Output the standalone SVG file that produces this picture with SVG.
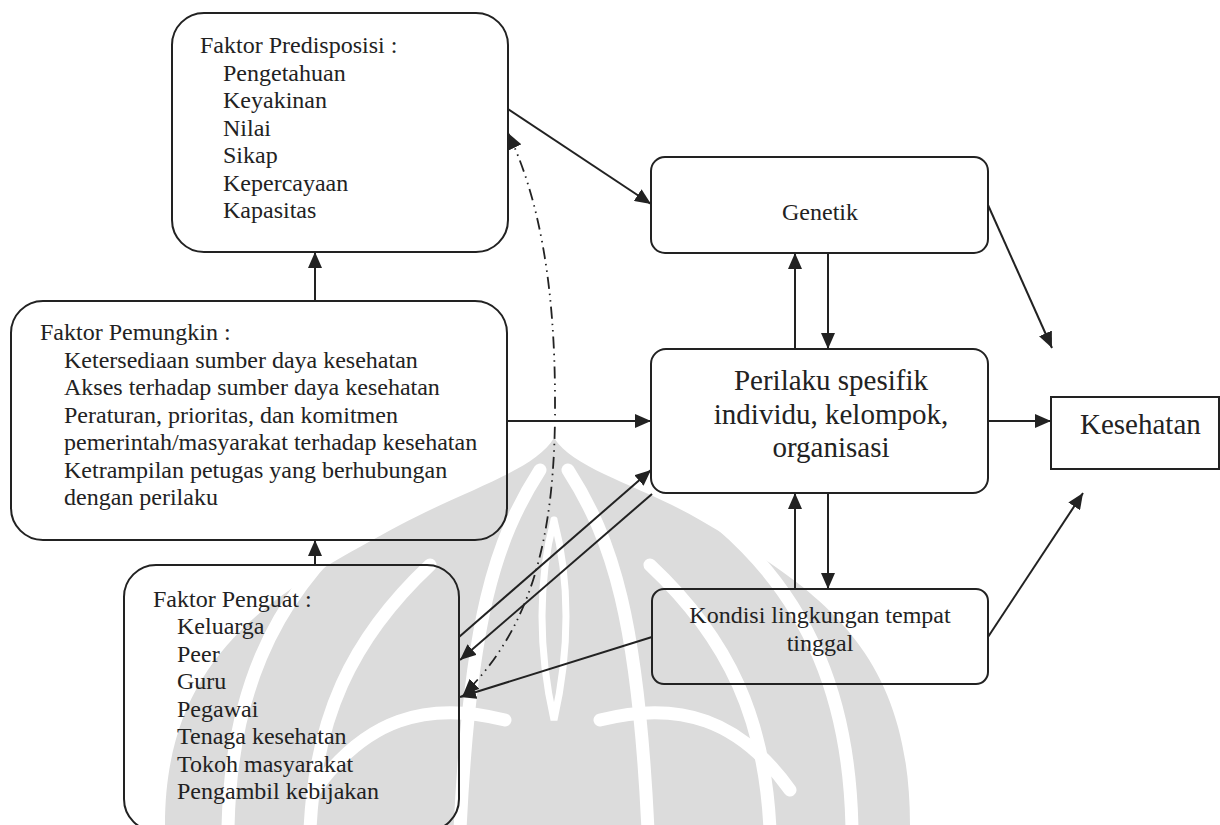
<svg xmlns="http://www.w3.org/2000/svg" width="1220" height="825" viewBox="0 0 1220 825">
  <defs>
    <style>
      .box { fill: none; stroke: #222; stroke-width: 2; }
      .txt { font-family: "Liberation Serif", "Times New Roman", serif; fill: #222; font-size: 24px; }
      .big { font-size: 29px; }
      .link { fill: none; stroke: #222; stroke-width: 2; }
      .dashdot { fill: none; stroke: #222; stroke-width: 1.8; stroke-dasharray: 12 5 1.5 5 1.5 5; }
      .wm { fill: #dcdcdc; }
      .wmline { fill: none; stroke: #fff; stroke-width: 13; stroke-linecap: round; }
    </style>
    <marker id="arrow" viewBox="0 0 16 14" refX="16" refY="7" markerWidth="16" markerHeight="14" markerUnits="userSpaceOnUse" orient="auto-start-reverse">
      <path d="M0,0 L16,7 L0,14 z" fill="#222"/>
    </marker>
  </defs>

  <rect width="1220" height="825" fill="#fff"/>

  <!-- faint emblem in the background -->
  <g id="watermark">
    <path class="wm" d="M554 438 C575 470 640 485 700 520 C820 590 910 650 910 825 L165 825 C165 650 280 590 400 525 C470 488 535 470 554 438 Z"/>
    <path class="wmline" d="M360 523 C270 600 230 700 228 830"/>
    <path class="wmline" d="M430 565 C350 640 315 720 310 830"/>
    <path class="wmline" d="M720 523 C810 600 850 700 852 830"/>
    <path class="wmline" d="M650 565 C730 640 765 720 770 830"/>
    <path class="wmline" d="M540 470 C495 540 470 620 460 830"/>
    <path class="wmline" d="M568 470 C613 540 638 620 648 830"/>
    <path class="wmline" style="stroke-width:7" d="M554 520 C538 580 538 650 554 720 C570 650 570 580 554 520"/>
    <path class="wmline" d="M600 720 C680 700 740 720 790 790"/>
    <path class="wmline" d="M505 720 C425 700 365 720 315 790"/>
  </g>

  <g id="predisposisi">
    <rect class="box" x="172" y="13" width="336" height="239" rx="32" ry="32"/>
    <text class="txt" x="200" y="53">Faktor Predisposisi :</text>
    <text class="txt" x="223" y="80.5">Pengetahuan</text>
    <text class="txt" x="223" y="108">Keyakinan</text>
    <text class="txt" x="223" y="135.5">Nilai</text>
    <text class="txt" x="223" y="163">Sikap</text>
    <text class="txt" x="223" y="190.5">Kepercayaan</text>
    <text class="txt" x="223" y="218">Kapasitas</text>
  </g>

  <g id="pemungkin">
    <rect class="box" x="11" y="301" width="496" height="239" rx="32" ry="32"/>
    <text class="txt" x="40" y="340">Faktor Pemungkin :</text>
    <text class="txt" x="64" y="367.5">Ketersediaan sumber daya kesehatan</text>
    <text class="txt" x="64" y="395">Akses terhadap sumber daya kesehatan</text>
    <text class="txt" x="64" y="422.5">Peraturan, prioritas, dan komitmen</text>
    <text class="txt" x="64" y="450">pemerintah/masyarakat terhadap kesehatan</text>
    <text class="txt" x="64" y="477.5">Ketrampilan petugas yang berhubungan</text>
    <text class="txt" x="64" y="505">dengan perilaku</text>
  </g>

  <g id="penguat">
    <rect class="box" x="124" y="565" width="335" height="266" rx="32" ry="32"/>
    <text class="txt" x="153" y="606.5">Faktor Penguat :</text>
    <text class="txt" x="177" y="634">Keluarga</text>
    <text class="txt" x="177" y="661.5">Peer</text>
    <text class="txt" x="177" y="689">Guru</text>
    <text class="txt" x="177" y="716.5">Pegawai</text>
    <text class="txt" x="177" y="744">Tenaga kesehatan</text>
    <text class="txt" x="177" y="771.5">Tokoh masyarakat</text>
    <text class="txt" x="177" y="799">Pengambil kebijakan</text>
  </g>

  <g id="genetik">
    <rect class="box" x="651" y="157" width="337" height="96" rx="14" ry="14"/>
    <text class="txt" x="820" y="220" text-anchor="middle">Genetik</text>
  </g>

  <g id="perilaku">
    <rect class="box" x="651" y="349" width="337" height="144" rx="15" ry="15"/>
    <text class="txt big" x="831" y="390" text-anchor="middle">Perilaku spesifik</text>
    <text class="txt big" x="831" y="423.5" text-anchor="middle">individu, kelompok,</text>
    <text class="txt big" x="831" y="457" text-anchor="middle">organisasi</text>
  </g>

  <g id="kondisi">
    <rect class="box" x="652" y="589" width="336" height="95" rx="12" ry="12"/>
    <text class="txt" x="820" y="623" text-anchor="middle">Kondisi lingkungan tempat</text>
    <text class="txt" x="820" y="650.5" text-anchor="middle">tinggal</text>
  </g>

  <g id="kesehatan">
    <rect class="box" x="1051" y="397" width="168" height="72"/>
    <text class="txt big" x="1080" y="434">Kesehatan</text>
  </g>

  <g id="connectors">
    <path class="link" d="M508 109 L651 204" marker-end="url(#arrow)"/>
    <path class="link" d="M315 301 L315 252" marker-end="url(#arrow)"/>
    <path class="link" d="M315 565 L315 540" marker-end="url(#arrow)"/>
    <path class="link" d="M507 421 L651 421" marker-end="url(#arrow)"/>
    <path class="link" d="M795 349 L795 253" marker-end="url(#arrow)"/>
    <path class="link" d="M828 253 L828 349" marker-end="url(#arrow)"/>
    <path class="link" d="M795 589 L795 493" marker-end="url(#arrow)"/>
    <path class="link" d="M828 493 L828 589" marker-end="url(#arrow)"/>
    <path class="link" d="M988 421 L1051 421" marker-end="url(#arrow)"/>
    <path class="link" d="M988 205 L1052 348" marker-end="url(#arrow)"/>
    <path class="link" d="M988 637 L1083 493" marker-end="url(#arrow)"/>
    <path class="link" d="M459 637 L651 470" marker-end="url(#arrow)"/>
    <path class="link" d="M652 494 L460 660" marker-end="url(#arrow)"/>
    <path class="link" d="M652 637 L460 697" marker-end="url(#arrow)"/>
    <path class="dashdot" d="M508 133 Q555 230 555 400 C556 540 530 630 463 695" marker-start="url(#arrow)" marker-end="url(#arrow)"/>
  </g>
</svg>
